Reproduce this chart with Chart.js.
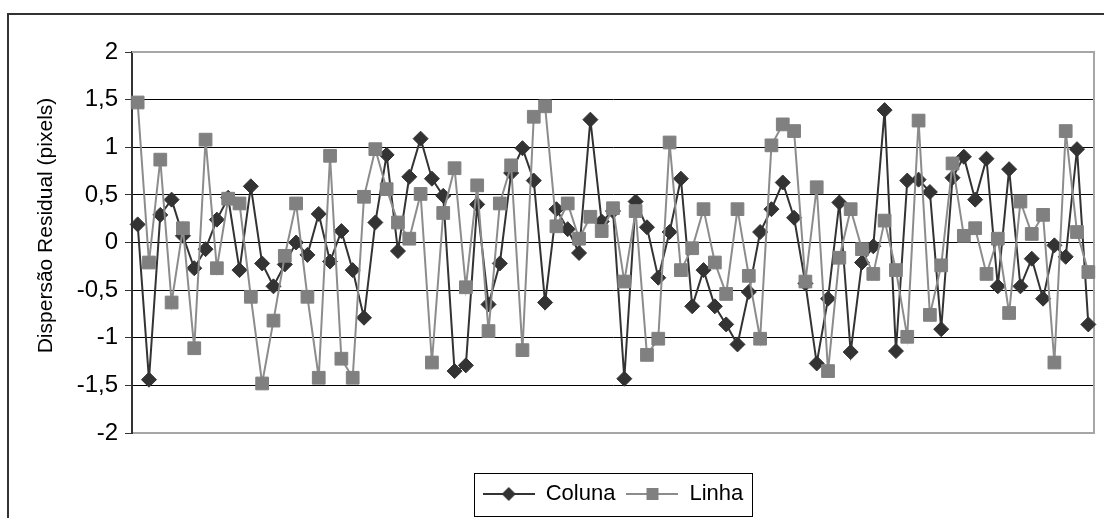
<!DOCTYPE html>
<html>
<head>
<meta charset="utf-8">
<script src="https://cdn.jsdelivr.net/npm/chart.js@4.4.1/dist/chart.umd.min.js"></script>
<style>
  html, body { margin: 0; padding: 0; background: #ffffff; }
  #wrap { position: relative; width: 1104px; height: 518px; }
</style>
</head>
<body>
<div id="wrap"><canvas id="c" width="1104" height="518"></canvas></div>
<script>
// ---- data ----
const categories = [1,2,3,4,5,6,7,8,9,10,11,12,13,14,15,16,17,18,19,20,21,22,23,24,25,26,27,28,29,30,
  31,32,33,34,35,36,37,38,39,40,41,42,43,44,45,46,47,48,49,50,51,52,53,54,55,56,57,58,59,60,
  61,62,63,64,65,66,67,68,69,70,71,72,73,74,75,76,77,78,79,80,81,82,83,84,85];

const colunaValues = [
  0.19, -1.44, 0.29, 0.45, 0.07, -0.27, -0.07, 0.24, 0.47, -0.29,
  0.59, -0.22, -0.46, -0.23, 0.00, -0.13, 0.30, -0.20, 0.12, -0.29,
  -0.79, 0.21, 0.92, -0.09, 0.69, 1.09, 0.67, 0.49, -1.35, -1.29,
  0.40, -0.65, -0.22, 0.73, 0.99, 0.65, -0.63, 0.35, 0.14, -0.11,
  1.29, 0.22, 0.33, -1.43, 0.43, 0.16, -0.37, 0.11, 0.67, -0.67,
  -0.29, -0.67, -0.86, -1.07, -0.52, 0.11, 0.35, 0.63, 0.26, -0.43,
  -1.27, -0.59, 0.42, -1.15, -0.21, -0.04, 1.39, -1.14, 0.65, 0.66,
  0.53, -0.91, 0.68, 0.90, 0.45, 0.88, -0.46, 0.77, -0.46, -0.17,
  -0.59, -0.03, -0.15, 0.98, -0.86
];

const linhaValues = [
  1.47, -0.21, 0.87, -0.63, 0.15, -1.11, 1.08, -0.27, 0.46, 0.41,
  -0.57, -1.48, -0.82, -0.14, 0.41, -0.57, -1.42, 0.91, -1.22, -1.42,
  0.48, 0.98, 0.56, 0.21, 0.04, 0.51, -1.26, 0.31, 0.78, -0.47,
  0.60, -0.93, 0.41, 0.81, -1.13, 1.32, 1.43, 0.17, 0.41, 0.04,
  0.27, 0.12, 0.36, -0.41, 0.33, -1.18, -1.01, 1.05, -0.29, -0.06,
  0.35, -0.21, -0.54, 0.35, -0.35, -1.01, 1.02, 1.24, 1.17, -0.41,
  0.58, -1.35, -0.16, 0.35, -0.07, -0.33, 0.23, -0.29, -0.99, 1.28,
  -0.76, -0.24, 0.83, 0.07, 0.15, -0.33, 0.04, -0.74, 0.43, 0.09,
  0.29, -1.26, 1.17, 0.11, -0.31
];

const seriesNames = ['Coluna', 'Linha'];
const yAxisTitle = 'Dispersão Residual (pixels)';
const yMin = -2, yMax = 2, yStep = 0.5;

// ---- styles ----
const FONT = '"Liberation Sans", Arial, sans-serif';
const C_DARK = '#333333';
const C_GRAY_LINE = '#8c8c8c';
const C_GRAY_MARK = '#808080';
const C_BORDER = '#a6a6a6';

function legendIcon(kind) {
  const cv = document.createElement('canvas');
  cv.width = 52; cv.height = 16;
  const g = cv.getContext('2d');
  g.strokeStyle = kind === 'diamond' ? C_DARK : C_GRAY_LINE;
  g.lineWidth = 2;
  g.beginPath(); g.moveTo(0, 8); g.lineTo(52, 8); g.stroke();
  if (kind === 'diamond') {
    g.fillStyle = C_DARK;
    g.beginPath(); g.moveTo(26, 1); g.lineTo(33, 8); g.lineTo(26, 15); g.lineTo(19, 8); g.closePath(); g.fill();
  } else {
    g.fillStyle = C_GRAY_MARK;
    g.fillRect(20, 2, 12, 12);
  }
  return cv;
}
const icons = [legendIcon('diamond'), legendIcon('square')];

const framePlugin = {
  id: 'frame',
  beforeDraw(chart) {
    const ctx = chart.ctx;
    ctx.save();
    ctx.strokeStyle = C_DARK;
    ctx.lineWidth = 2;
    ctx.beginPath();
    ctx.moveTo(8, 600); ctx.lineTo(8, 14); ctx.lineTo(1200, 14);
    ctx.stroke();
    ctx.restore();
  },
  beforeDatasetsDraw(chart) {
    const a = chart.chartArea, ctx = chart.ctx;
    ctx.save();
    ctx.strokeStyle = C_BORDER;
    ctx.lineWidth = 2;
    ctx.beginPath();
    ctx.moveTo(a.left, a.top); ctx.lineTo(a.right, a.top); ctx.lineTo(a.right, a.bottom);
    ctx.stroke();
    ctx.restore();
  },
  afterDraw(chart) {
    const ctx = chart.ctx;
    // y-axis title (placed as in the reference, slightly above the axis centre)
    const a = chart.chartArea;
    ctx.save();
    ctx.translate(46, (a.top + a.bottom) / 2 - 17);
    ctx.rotate(-Math.PI / 2);
    ctx.fillStyle = '#000000';
    ctx.font = '21px ' + FONT;
    ctx.textAlign = 'center';
    ctx.textBaseline = 'middle';
    ctx.fillText(yAxisTitle, 0, 0);
    ctx.restore();

    const lg = chart.legend;
    if (!lg || !lg.legendHitBoxes || !lg.legendHitBoxes.length) return;
    const hb = lg.legendHitBoxes;
    const first = hb[0], last = hb[hb.length - 1];
    const cy = first.top + first.height / 2;
    const x1 = Math.round(first.left - 9) + 0.5;
    const x2 = Math.round(last.left + last.width + 9) + 0.5;
    const y1 = Math.round(cy - 21) + 0.5;
    const y2 = Math.round(cy + 22) + 0.5;
    ctx.save();
    ctx.strokeStyle = '#000000';
    ctx.lineWidth = 1;
    ctx.strokeRect(x1, y1, x2 - x1, y2 - y1);
    ctx.restore();
  }
};

new Chart(document.getElementById('c'), {
  type: 'line',
  data: {
    labels: categories,
    datasets: [
      {
        label: seriesNames[0],
        data: colunaValues,
        order: 1,
        borderColor: C_DARK,
        borderWidth: 2,
        pointStyle: 'rectRot',
        pointRadius: 7.5,
        pointBackgroundColor: C_DARK,
        pointBorderColor: C_DARK,
        pointBorderWidth: 1,
        tension: 0,
        fill: false
      },
      {
        label: seriesNames[1],
        data: linhaValues,
        order: 0,
        borderColor: C_GRAY_LINE,
        borderWidth: 2,
        pointStyle: 'rect',
        pointRadius: 9,
        pointBackgroundColor: C_GRAY_MARK,
        pointBorderColor: C_GRAY_MARK,
        pointBorderWidth: 1,
        tension: 0,
        fill: false
      }
    ]
  },
  options: {
    responsive: false,
    animation: false,
    devicePixelRatio: 1,
    layout: { padding: { left: 0, right: 6, top: 52, bottom: 3 } },
    plugins: {
      tooltip: { enabled: false },
      legend: {
        position: 'bottom',
        fullSize: false,
        labels: {
          usePointStyle: true,
          pointStyleWidth: 52,
          padding: 11,
          color: '#000000',
          font: { family: FONT, size: 22 },
          sort: (a, b) => a.datasetIndex - b.datasetIndex,
          generateLabels(chart) {
            return chart.data.datasets.map((ds, i) => ({
              text: ds.label,
              datasetIndex: i,
              pointStyle: icons[i],
              fillStyle: 'transparent',
              strokeStyle: 'transparent',
              lineWidth: 0,
              fontColor: '#000000',
              hidden: false
            }));
          }
        }
      }
    },
    scales: {
      x: {
        type: 'category',
        offset: true,
        grid: { display: false, drawTicks: false },
        ticks: { display: false },
        border: { display: true, color: C_BORDER, width: 2 },
        afterFit(scale) { scale.height = 39; }
      },
      y: {
        min: yMin,
        max: yMax,
        ticks: {
          stepSize: yStep,
          padding: 7,
          color: '#000000',
          font: { family: FONT, size: 24 },
          callback: (v) => String(v).replace('.', ',')
        },
        grid: {
          color: (c) => (c.tick && (c.tick.value === yMax || c.tick.value === yMin)) ? C_BORDER : '#000000',
          lineWidth: 1,
          tickLength: 7,
          tickColor: C_DARK
        },
        border: { display: true, color: C_DARK, width: 2 },
        title: { display: false },
        afterFit(scale) { scale.width = 132; }
      }
    }
  },
  plugins: [framePlugin]
});
</script>
</body>
</html>
